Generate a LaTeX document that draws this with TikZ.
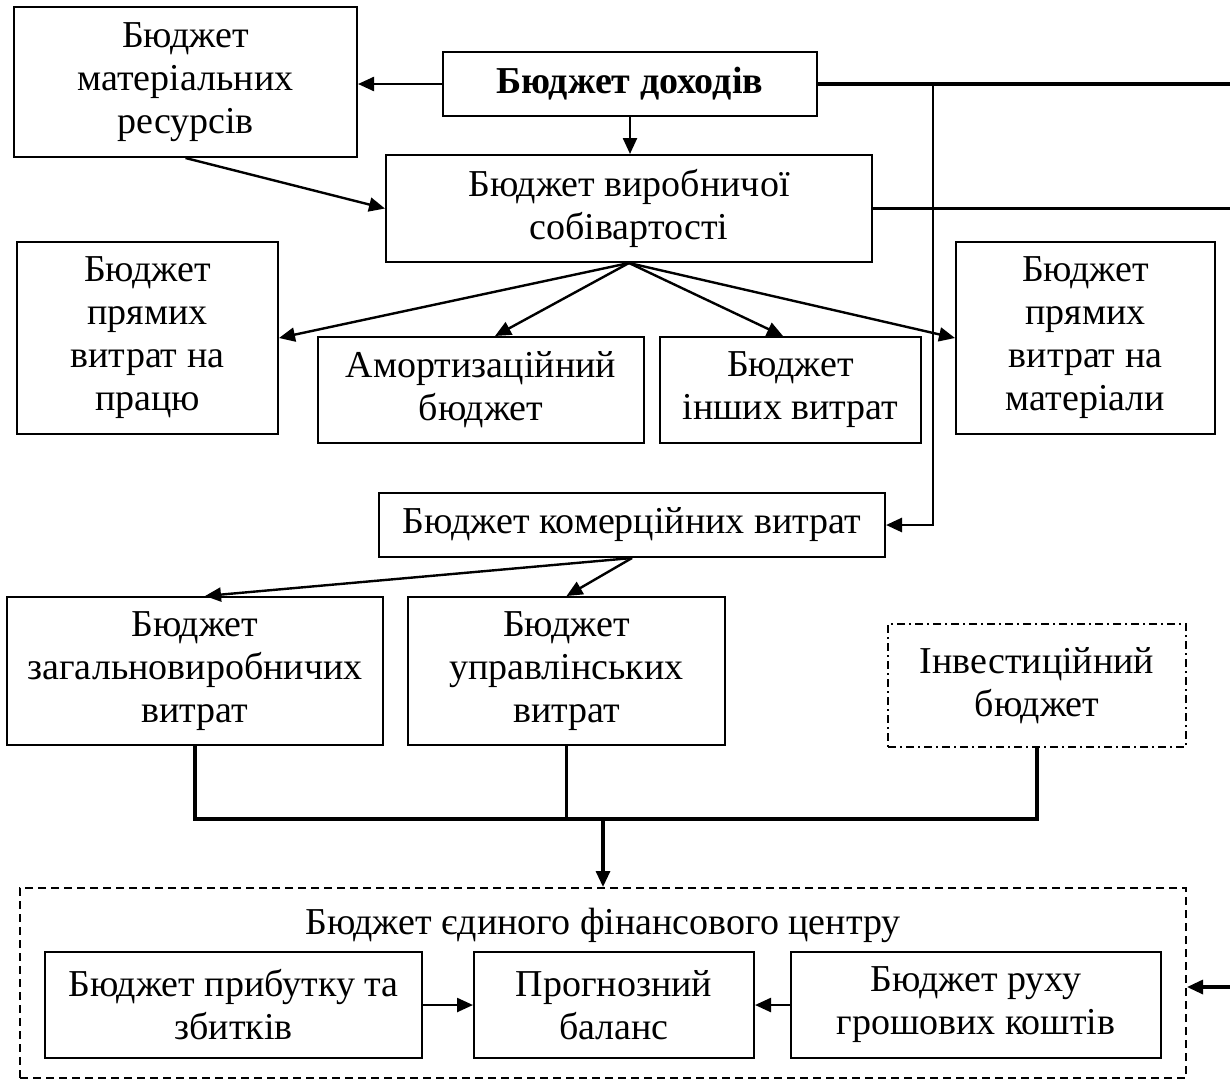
\documentclass[tikz,border=0pt]{standalone}
\usepackage{fontspec}
\setmainfont{Liberation Serif}
\usepackage{tikz}
\usetikzlibrary{arrows.meta}

\tikzset{
    box/.style={draw, line width=1pt, align=center, inner sep=0pt,
        font=\fontsize{19}{21.5}\selectfont},
    link/.style={line width=1.2pt, -{Triangle[length=8pt,width=7pt]}},
    bus/.style={line width=1.8pt}
}

\begin{document}
\begin{tikzpicture}[x=0.5pt, y=-0.5pt]
        \useasboundingbox (0,0) rectangle (1230,1083);
        % top rows
        \node[box, minimum width=171.5pt, minimum height=75pt] (mat) at (185.5, 82) {Бюджет\\матеріальних\\ресурсів};
        \node[box, minimum width=187pt, minimum height=32pt, font={\fontsize{19}{21.5}\selectfont\bfseries}] (doh) at (630, 84) {Бюджет доходів};
        \node[box, minimum width=243pt, minimum height=53.5pt] (vyr) at (629, 208.5) {Бюджет виробничої\\собівартості};
        \node[box, minimum width=130.5pt, minimum height=96pt] (pracya) at (147.5, 338) {Бюджет\\прямих\\витрат на\\працю};
        \node[box, minimum width=163pt, minimum height=53pt] (amort) at (481, 390) {Амортизаційний\\бюджет};
        \node[box, minimum width=130.5pt, minimum height=53pt] (inshi) at (790.5, 390) {Бюджет\\інших витрат};
        \node[box, minimum width=129.5pt, minimum height=96pt] (mater) at (1085.5, 338) {Бюджет\\прямих\\витрат на\\матеріали};
        \node[box, minimum width=253pt, minimum height=32pt] (kom) at (632, 525) {Бюджет комерційних витрат};
        \node[box, minimum width=188pt, minimum height=74pt] (zag) at (195, 671) {Бюджет\\загальновиробничих\\витрат};
        \node[box, minimum width=158.5pt, minimum height=74pt] (upr) at (566.5, 671) {Бюджет\\управлінських\\витрат};
        \node[box, minimum width=149pt, minimum height=61.5pt, dash pattern=on 4pt off 2pt on 1pt off 2pt] (inv) at (1037, 685.5) {Інвестиційний\\бюджет};
        % single financial centre
        \node[box, minimum width=583pt, minimum height=95pt, dash pattern=on 4pt off 2.5pt] (edin) at (603, 983) {};
        \node[box, draw=none] (edinlbl) at (603, 925) {Бюджет єдиного фінансового центру};
        \node[box, minimum width=188.5pt, minimum height=53pt] (prib) at (233.5, 1005) {Бюджет прибутку та\\збитків};
        \node[box, minimum width=140pt, minimum height=53pt] (progn) at (614, 1005) {Прогнозний\\баланс};
        \node[box, minimum width=185pt, minimum height=53pt] (rukh) at (976, 1005) {Бюджет руху\\грошових коштів};

        \coordinate (outA) at (1230, 84);
        \coordinate (outB) at (1230, 208.5);
        \coordinate (tap) at (933, 84);
        \coordinate (bus) at (603, 819);
        \coordinate (inR) at (1230, 987);

        % arrows
        \draw[link] (doh.west) -- (mat.east |- doh.west);
        \draw[link] (doh.south) -- (doh.south |- vyr.north);
        \draw[link] (mat.south) -- (vyr.west);
        \draw[link] (vyr.south) -- (pracya.east);
        \draw[link] (vyr.south) -- ([xshift=7pt]amort.north);
        \draw[link] (vyr.south) -- ([xshift=-3.75pt]inshi.north);
        \draw[link] (vyr.south) -- (mater.west);
        \draw[link] (kom.south) -- ([xshift=5pt]zag.north);
        \draw[link] (kom.south) -- (upr.north);
        \draw[link] (prib.east) -- (progn.west);
        \draw[link] (rukh.west) -- (progn.east);

        % thick lines
        \draw[bus] (doh.east) -- (outA);
        \draw[bus] (vyr.east) -- (outB);
        \draw[link, line width=1.4pt] (tap) |- (kom.east);
        \draw[bus] (zag.south) -- (zag.south |- bus) -- (inv.south |- bus) -- (inv.south);
        \draw[bus] (upr.south) -- (upr.south |- bus);
        \draw[link, line width=1.6pt] (bus) -- (edin.north);
        \draw[link, line width=1.6pt] (inR) -- (edin.east |- inR);
    \end{tikzpicture}
\end{document}
